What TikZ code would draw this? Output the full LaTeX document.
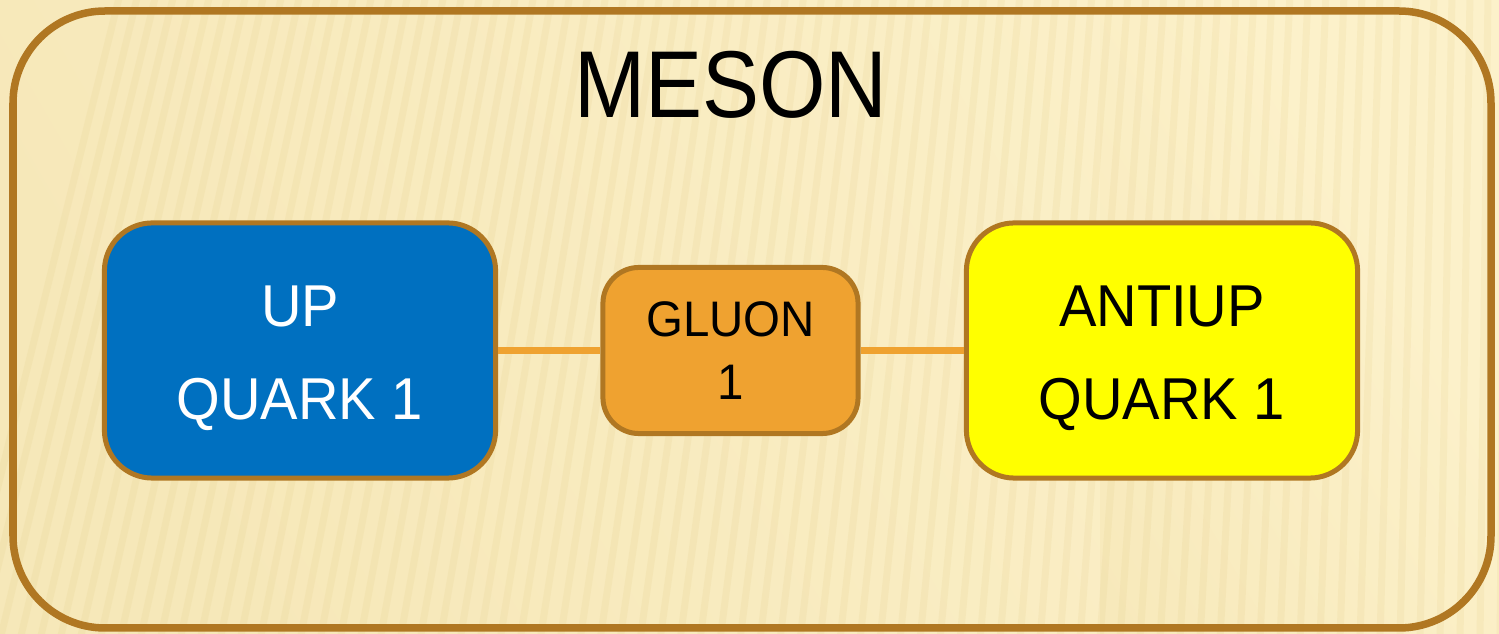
\documentclass[tikz,border=0pt]{standalone}
\usepackage{fontspec}
\setmainfont{Liberation Sans}[FakeStretch=0.9]
\newfontfamily\boxfont{Liberation Sans}[FakeStretch=0.95]
\definecolor{creamA}{RGB}{252,241,202}
\definecolor{creamB}{RGB}{239,219,160}
\definecolor{stripe}{RGB}{222,196,120}
\definecolor{rim}{RGB}{176,119,34}
\definecolor{upblue}{RGB}{0,112,192}
\definecolor{gluonorange}{RGB}{239,162,48}
\definecolor{antiyellow}{RGB}{255,255,0}
\newcommand{\quarktext}[2]{\parbox{3.5cm}{\centering\vspace*{4.6pt}#1\\#2}}
\tikzset{
  quarkbox/.style={draw=rim, line width=0.05cm, rounded corners=0.48cm,
    minimum width=3.91cm, minimum height=2.55cm, inner sep=0pt, align=center,
    font=\boxfont\fontsize{16.8}{26.5}\selectfont},
  gluonbox/.style={draw=rim, line width=0.05cm, rounded corners=0.36cm,
    fill=gluonorange, minimum width=2.55cm, minimum height=1.66cm,
    inner sep=0pt, align=center, font=\boxfont\fontsize{14.2}{17.9}\selectfont},
  bond/.style={draw=gluonorange, line width=0.07cm},
  frame/.style={draw=rim, line width=0.075cm, rounded corners=0.92cm},
}
\begin{document}
\begin{tikzpicture}[x=0.01cm, y=-0.01cm]
  \useasboundingbox (0,0) rectangle (1499,634);
  % textured background
  \shade[top color=creamA, bottom color=creamB, shading angle=-60] (0,0) rectangle (1499,634);
  \fill[creamA, opacity=0.6] (0,0) rectangle (1100,634);
  \begin{scope}
    \clip (0,0) rectangle (1499,634);
    \foreach \i in {0,...,80} {
      \pgfmathsetmacro{\xa}{\i*20-40}
      \pgfmathsetmacro{\lean}{max(0,160-\i*2)}
      \draw[stripe, opacity=0.13, line width=0.07cm] (\xa,640) -- (\xa+\lean,-6);
    }
  \end{scope}
  % meson frame and title
  \draw[frame] (13,11) rectangle (1491,628);
  \node[anchor=base, font=\fontsize{27}{32}\selectfont] (title) at (731,118) {MESON};
  % constituents
  \node[quarkbox, fill=upblue, text=white] (up) at (300,350.5) {\quarktext{UP}{QUARK 1}};
  \node[gluonbox] (gluon) at (730.5,350.5) {GLUON\\1};
  \node[quarkbox, fill=antiyellow, text=black] (antiup) at (1162,350.5) {\quarktext{ANTIUP}{QUARK 1}};
  \draw[bond] (up.east) -- (gluon.west);
  \draw[bond] (gluon.east) -- (antiup.west);
\end{tikzpicture}
\end{document}
